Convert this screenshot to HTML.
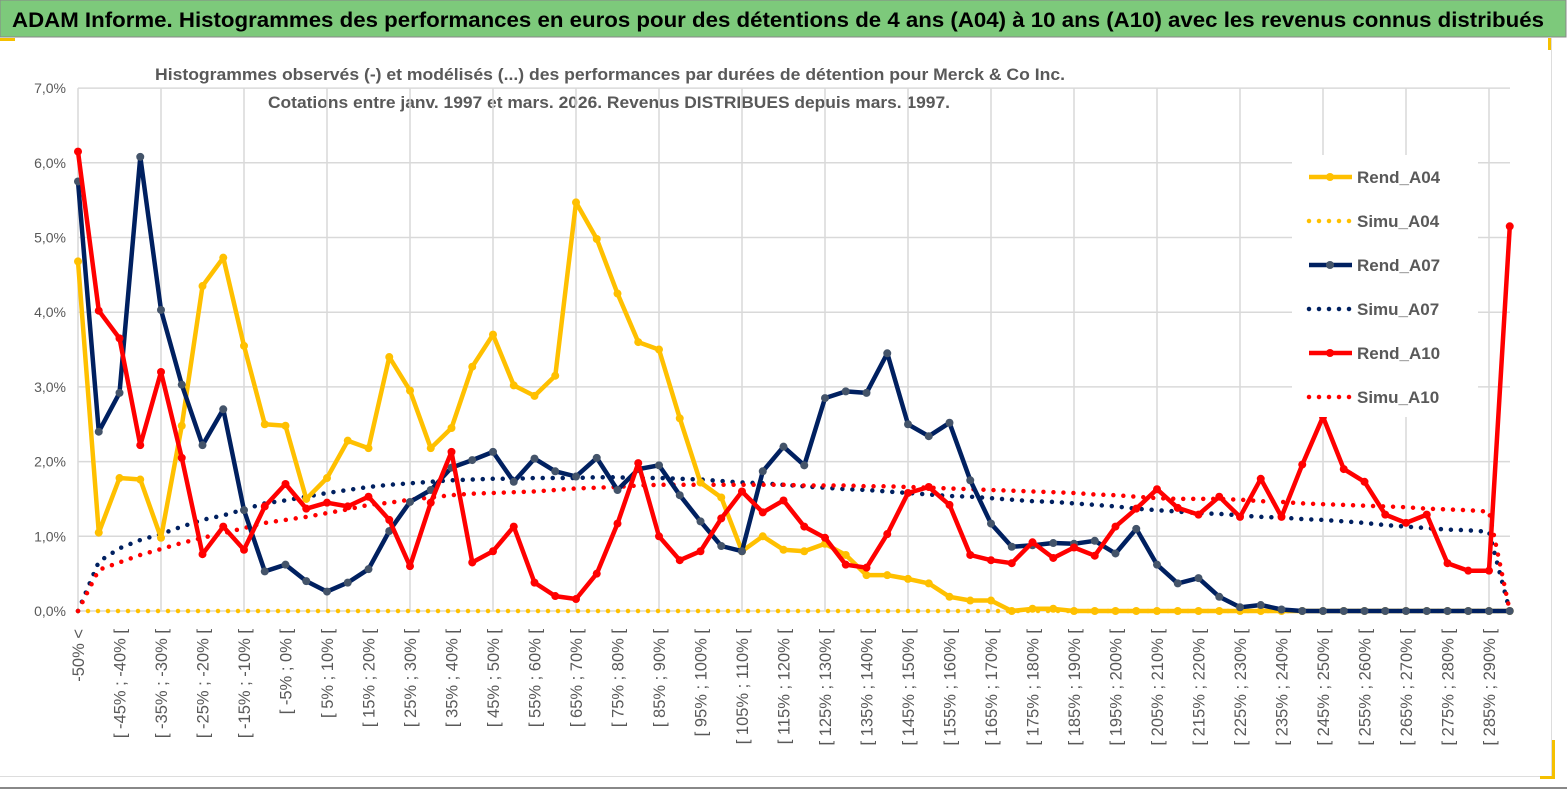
<!DOCTYPE html>
<html><head><meta charset="utf-8"><style>
body{margin:0;background:#fff;}
svg{display:block;font-family:"Liberation Sans",sans-serif;}
</style></head><body>
<svg id="chart" width="1567" height="789" viewBox="0 0 1567 789" xmlns="http://www.w3.org/2000/svg">
<rect x="0" y="0" width="1567" height="789" fill="#fff"/>
<rect x="0" y="0" width="1566" height="37" fill="#7dc97b" stroke="#888" stroke-width="1"/>
<text x="12" y="27" font-size="21" font-weight="bold" fill="#000" textLength="1532" lengthAdjust="spacingAndGlyphs">ADAM Informe. Histogrammes des performances en euros pour des détentions de 4 ans (A04) à 10 ans (A10) avec les revenus connus distribués</text>
<rect x="0" y="38" width="15" height="3" fill="#f5c000"/>
<rect x="1548" y="38" width="3" height="12" fill="#f5c000"/>
<rect x="1551" y="38" width="1" height="740" fill="#ddd"/>
<rect x="0" y="776" width="1552" height="1" fill="#ddd"/>
<rect x="1552" y="740" width="3" height="38" fill="#f5c000"/>
<rect x="1540" y="776" width="15" height="3" fill="#f5c000"/>
<rect x="0" y="787" width="1567" height="2" fill="#888"/>
<text x="155" y="80" font-size="17" font-weight="bold" fill="#595959" textLength="910" lengthAdjust="spacingAndGlyphs">Histogrammes observés (-) et modélisés (...)  des performances par durées de détention pour Merck &amp; Co Inc.</text>
<text x="268" y="108" font-size="17" font-weight="bold" fill="#595959" textLength="682" lengthAdjust="spacingAndGlyphs">Cotations entre janv. 1997 et mars. 2026.  Revenus DISTRIBUES depuis mars. 1997.</text>
<g id="grid"></g>
<g id="series"></g>
<g id="legend"></g>
<g id="axes"></g>
</svg>
<script>
const categories = [];
categories.push('-50% <');
for (let a = -50; a < 290; a += 5) categories.push('[ ' + a + '% ; ' + (a + 5) + '% [');
categories.push('290% >');
const yTicks = [0,1,2,3,4,5,6,7];
const yTickLabels = ['0,0%','1,0%','2,0%','3,0%','4,0%','5,0%','6,0%','7,0%'];
const rendA04 = [4.68,1.05,1.78,1.76,0.98,2.48,4.35,4.73,3.55,2.5,2.48,1.5,1.78,2.28,2.18,3.4,2.95,2.18,2.45,3.27,3.7,3.02,2.88,3.15,5.47,4.98,4.25,3.6,3.5,2.58,1.72,1.52,0.8,1.0,0.82,0.8,0.9,0.75,0.48,0.48,0.43,0.37,0.19,0.14,0.14,0.0,0.03,0.03,0,0,0,0,0,0,0,0,0,0,0,0,0,0,0,0,0,0,0,0,0,0];
const simuA04 = new Array(70).fill(0);
const rendA07 = [5.75,2.4,2.92,6.08,4.03,3.03,2.22,2.7,1.35,0.53,0.62,0.4,0.26,0.38,0.56,1.07,1.46,1.62,1.92,2.02,2.13,1.73,2.04,1.87,1.8,2.05,1.62,1.9,1.95,1.55,1.2,0.87,0.8,1.87,2.2,1.95,2.85,2.94,2.92,3.45,2.5,2.34,2.52,1.75,1.17,0.86,0.88,0.91,0.9,0.94,0.77,1.1,0.62,0.37,0.44,0.19,0.05,0.08,0.02,0,0,0,0,0,0,0,0,0,0,0];
const simuA07 = [0,0.66,0.84,0.95,1.03,1.13,1.22,1.28,1.36,1.44,1.48,1.53,1.58,1.62,1.66,1.69,1.71,1.73,1.75,1.76,1.77,1.77,1.78,1.78,1.78,1.79,1.79,1.78,1.78,1.77,1.76,1.74,1.72,1.71,1.69,1.67,1.65,1.63,1.62,1.6,1.58,1.56,1.54,1.53,1.51,1.49,1.47,1.46,1.44,1.42,1.4,1.37,1.35,1.33,1.31,1.3,1.28,1.26,1.25,1.23,1.22,1.2,1.18,1.15,1.13,1.11,1.09,1.08,1.06,0];
const rendA10 = [6.15,4.02,3.65,2.22,3.2,2.05,0.76,1.13,0.82,1.4,1.7,1.37,1.45,1.4,1.53,1.22,0.6,1.45,2.13,0.65,0.8,1.13,0.38,0.2,0.16,0.5,1.17,1.98,1.0,0.68,0.8,1.24,1.6,1.32,1.48,1.13,0.98,0.62,0.58,1.03,1.58,1.66,1.42,0.75,0.68,0.64,0.92,0.71,0.85,0.74,1.13,1.37,1.63,1.38,1.29,1.53,1.26,1.77,1.26,1.96,2.6,1.9,1.73,1.29,1.18,1.29,0.64,0.54,0.54,5.15];
const simuA10 = [0,0.55,0.65,0.75,0.83,0.91,0.98,1.04,1.11,1.18,1.22,1.26,1.31,1.36,1.42,1.45,1.49,1.52,1.55,1.57,1.58,1.59,1.6,1.62,1.64,1.65,1.66,1.68,1.69,1.69,1.69,1.69,1.69,1.69,1.69,1.68,1.68,1.68,1.67,1.67,1.66,1.65,1.64,1.63,1.62,1.61,1.6,1.59,1.58,1.56,1.55,1.53,1.51,1.5,1.5,1.5,1.49,1.47,1.46,1.44,1.43,1.42,1.41,1.4,1.39,1.37,1.36,1.35,1.33,0];

const NS = 'http://www.w3.org/2000/svg';
const X0 = 78, DX = 20.75, Y0 = 611, PY = 74.7;
function xs(i){ return X0 + i * DX; }
function ys(v){ return Y0 - v * PY; }
function mk(tag, attrs, parent){ const e = document.createElementNS(NS, tag); for (const k in attrs) e.setAttribute(k, attrs[k]); parent.appendChild(e); return e; }

const grid = document.getElementById('grid');
yTicks.forEach((t, k) => {
  const l = mk('line', {x1: X0, x2: 1510, y1: ys(t), y2: ys(t), stroke: '#d9d9d9', 'stroke-width': 1.5}, grid);
  
  
  const tx = mk('text', {x: 66, y: ys(t) + 5, 'font-size': 14, fill: '#595959', 'text-anchor': 'end'}, grid);
  tx.textContent = yTickLabels[k];
  
  
});
for (let i = 0; i < categories.length; i += 4) {
  const l = mk('line', {x1: xs(i), x2: xs(i), y1: ys(7), y2: Y0, stroke: '#d9d9d9', 'stroke-width': 1.5}, grid);
  
  
}
const axes = document.getElementById('axes');
categories.forEach((c, i) => {
  if (i % 2 !== 0) return;
  const tx = mk('text', {x: 0, y: 0, 'font-size': 16.5, fill: '#595959', 'text-anchor': 'end', transform: 'translate(' + (xs(i) + 6) + ',629) rotate(-90)'}, axes);
  tx.textContent = c;
  
  
});

const series = document.getElementById('series');
function pts(arr){ return arr.map((v, i) => xs(i).toFixed(1) + ',' + ys(v).toFixed(1)).join(' '); }
function drawDotted(arr, color, name){
  const p = mk('polyline', {points: pts(arr), fill: 'none', stroke: color, 'stroke-width': 4.5, 'stroke-linecap': 'round', 'stroke-dasharray': '0 10'}, series);
  
  
}
function drawSolid(arr, color, mcolor, name){
  const g = mk('g', {}, series);
  
  
  mk('polyline', {points: pts(arr), fill: 'none', stroke: color, 'stroke-width': 4.5, 'stroke-linejoin': 'round'}, g);
  arr.forEach((v, i) => {
    const c = mk('circle', {cx: xs(i), cy: ys(v), r: 4, fill: mcolor}, g);
    
    
  });
}
drawDotted(simuA04, '#ffc000', 'simu-a04-line');
drawDotted(simuA07, '#002060', 'simu-a07-line');
drawDotted(simuA10, '#ff0000', 'simu-a10-line');
drawSolid(rendA04, '#ffc000', '#ffc000', 'rend-a04-line');
drawSolid(rendA07, '#002060', '#44546a', 'rend-a07-line');
drawSolid(rendA10, '#ff0000', '#ff0000', 'rend-a10-line');

const legend = document.getElementById('legend');
const lg = mk('rect', {x: 1292, y: 155, width: 186, height: 262, fill: '#fff'}, legend);


const legendNames = ['Rend_A04','Simu_A04','Rend_A07','Simu_A07','Rend_A10','Simu_A10'];
const legendColors = ['#ffc000','#ffc000','#002060','#002060','#ff0000','#ff0000'];
const legendMarker = ['#ffc000',null,'#44546a',null,'#ff0000',null];
legendNames.forEach((n, k) => {
  const y = 177 + k * 44;
  const g = mk('g', {}, legend);
  
  
  if (legendMarker[k]) {
    mk('line', {x1: 1309, x2: 1352, y1: y, y2: y, stroke: legendColors[k], 'stroke-width': 4.5}, g);
    mk('circle', {cx: 1330, cy: y, r: 4, fill: legendMarker[k]}, g);
  } else {
    mk('line', {x1: 1309, x2: 1352, y1: y, y2: y, stroke: legendColors[k], 'stroke-width': 4.5, 'stroke-linecap': 'round', 'stroke-dasharray': '0 10'}, g);
  }
  const t = mk('text', {x: 1357, y: y + 6, 'font-size': 17, 'font-weight': 'bold', fill: '#595959'}, g);
  t.textContent = n;
});
</script>
</body></html>
